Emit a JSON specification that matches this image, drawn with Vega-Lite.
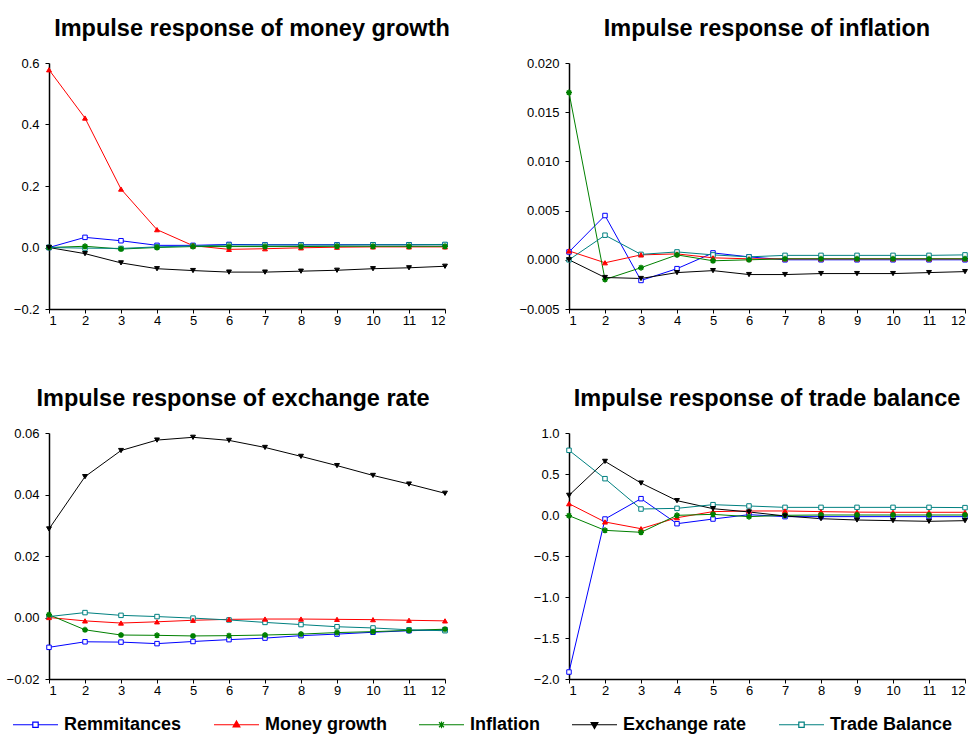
{
  "$schema": "https://vega.github.io/schema/vega-lite/v6.json",
  "padding": {"left": 5, "top": 16, "right": 5, "bottom": 5},
  "background": "white",
  "config": {
    "font": "Liberation Sans",
    "view": {"stroke": null},
    "axis": {"grid": false, "title": null, "domainColor": "black", "domainWidth": 1.5, "tickColor": "black", "tickWidth": 1, "tickSize": 4, "labelColor": "black", "labelFont": "Liberation Sans", "labelFontSize": 13},
    "axisX": {"labelPadding": 1},
    "axisY": {"labelPadding": 6, "minExtent": 44, "maxExtent": 44},
    "title": {"fontSize": 23.5, "font": "Liberation Sans", "fontWeight": "bold", "anchor": "middle", "frame": "group", "offset": 17, "color": "black"},
    "legend": {"orient": "none", "legendX": -37, "legendY": 638, "direction": "horizontal", "title": null, "labelFont": "Liberation Sans", "labelFontSize": 18, "labelFontWeight": "bold", "labelColor": "black", "symbolSize": 2025, "symbolStrokeWidth": 1.2, "labelOffset": 5, "columnPadding": 29}
  },
  "datasets": {
    "money": [
      {"series": "Remmitances", "period": 1, "value": 0}, {"series": "Remmitances", "period": 2, "value": 0.033}, {"series": "Remmitances", "period": 3, "value": 0.022}, {"series": "Remmitances", "period": 4, "value": 0.007}, {"series": "Remmitances", "period": 5, "value": 0.007}, {"series": "Remmitances", "period": 6, "value": 0.010}, {"series": "Remmitances", "period": 7, "value": 0.009}, {"series": "Remmitances", "period": 8, "value": 0.009}, {"series": "Remmitances", "period": 9, "value": 0.009}, {"series": "Remmitances", "period": 10, "value": 0.009}, {"series": "Remmitances", "period": 11, "value": 0.009}, {"series": "Remmitances", "period": 12, "value": 0.009},
      {"series": "Money growth", "period": 1, "value": 0.578}, {"series": "Money growth", "period": 2, "value": 0.421}, {"series": "Money growth", "period": 3, "value": 0.190}, {"series": "Money growth", "period": 4, "value": 0.058}, {"series": "Money growth", "period": 5, "value": 0.006}, {"series": "Money growth", "period": 6, "value": -0.006}, {"series": "Money growth", "period": 7, "value": -0.004}, {"series": "Money growth", "period": 8, "value": -0.001}, {"series": "Money growth", "period": 9, "value": 0.001}, {"series": "Money growth", "period": 10, "value": 0.002}, {"series": "Money growth", "period": 11, "value": 0.002}, {"series": "Money growth", "period": 12, "value": 0.002},
      {"series": "Inflation", "period": 1, "value": 0}, {"series": "Inflation", "period": 2, "value": 0.004}, {"series": "Inflation", "period": 3, "value": -0.005}, {"series": "Inflation", "period": 4, "value": 0.000}, {"series": "Inflation", "period": 5, "value": 0.003}, {"series": "Inflation", "period": 6, "value": 0.003}, {"series": "Inflation", "period": 7, "value": 0.003}, {"series": "Inflation", "period": 8, "value": 0.003}, {"series": "Inflation", "period": 9, "value": 0.004}, {"series": "Inflation", "period": 10, "value": 0.004}, {"series": "Inflation", "period": 11, "value": 0.004}, {"series": "Inflation", "period": 12, "value": 0.004},
      {"series": "Exchange rate", "period": 1, "value": 0}, {"series": "Exchange rate", "period": 2, "value": -0.020}, {"series": "Exchange rate", "period": 3, "value": -0.050}, {"series": "Exchange rate", "period": 4, "value": -0.069}, {"series": "Exchange rate", "period": 5, "value": -0.075}, {"series": "Exchange rate", "period": 6, "value": -0.080}, {"series": "Exchange rate", "period": 7, "value": -0.080}, {"series": "Exchange rate", "period": 8, "value": -0.077}, {"series": "Exchange rate", "period": 9, "value": -0.074}, {"series": "Exchange rate", "period": 10, "value": -0.069}, {"series": "Exchange rate", "period": 11, "value": -0.066}, {"series": "Exchange rate", "period": 12, "value": -0.061},
      {"series": "Trade Balance", "period": 1, "value": 0}, {"series": "Trade Balance", "period": 2, "value": -0.002}, {"series": "Trade Balance", "period": 3, "value": -0.003}, {"series": "Trade Balance", "period": 4, "value": 0.002}, {"series": "Trade Balance", "period": 5, "value": 0.005}, {"series": "Trade Balance", "period": 6, "value": 0.008}, {"series": "Trade Balance", "period": 7, "value": 0.008}, {"series": "Trade Balance", "period": 8, "value": 0.008}, {"series": "Trade Balance", "period": 9, "value": 0.008}, {"series": "Trade Balance", "period": 10, "value": 0.009}, {"series": "Trade Balance", "period": 11, "value": 0.009}, {"series": "Trade Balance", "period": 12, "value": 0.010}
    ],
    "inflation": [
      {"series": "Remmitances", "period": 1, "value": 0.0008}, {"series": "Remmitances", "period": 2, "value": 0.0045}, {"series": "Remmitances", "period": 3, "value": -0.0021}, {"series": "Remmitances", "period": 4, "value": -0.0009}, {"series": "Remmitances", "period": 5, "value": 0.0007}, {"series": "Remmitances", "period": 6, "value": 0.0003}, {"series": "Remmitances", "period": 7, "value": 0.0000}, {"series": "Remmitances", "period": 8, "value": 0.0000}, {"series": "Remmitances", "period": 9, "value": 0.0000}, {"series": "Remmitances", "period": 10, "value": 0.0000}, {"series": "Remmitances", "period": 11, "value": 0.0000}, {"series": "Remmitances", "period": 12, "value": 0.0000},
      {"series": "Money growth", "period": 1, "value": 0.0009}, {"series": "Money growth", "period": 2, "value": -0.0003}, {"series": "Money growth", "period": 3, "value": 0.0005}, {"series": "Money growth", "period": 4, "value": 0.0006}, {"series": "Money growth", "period": 5, "value": 0.0002}, {"series": "Money growth", "period": 6, "value": 0.0001}, {"series": "Money growth", "period": 7, "value": 0.0001}, {"series": "Money growth", "period": 8, "value": 0.0001}, {"series": "Money growth", "period": 9, "value": 0.0001}, {"series": "Money growth", "period": 10, "value": 0.0001}, {"series": "Money growth", "period": 11, "value": 0.0001}, {"series": "Money growth", "period": 12, "value": 0.0001},
      {"series": "Inflation", "period": 1, "value": 0.0170}, {"series": "Inflation", "period": 2, "value": -0.0020}, {"series": "Inflation", "period": 3, "value": -0.0008}, {"series": "Inflation", "period": 4, "value": 0.0005}, {"series": "Inflation", "period": 5, "value": -0.0001}, {"series": "Inflation", "period": 6, "value": 0.0000}, {"series": "Inflation", "period": 7, "value": 0.0001}, {"series": "Inflation", "period": 8, "value": 0.0001}, {"series": "Inflation", "period": 9, "value": 0.0001}, {"series": "Inflation", "period": 10, "value": 0.0001}, {"series": "Inflation", "period": 11, "value": 0.0001}, {"series": "Inflation", "period": 12, "value": 0.0001},
      {"series": "Exchange rate", "period": 1, "value": 0}, {"series": "Exchange rate", "period": 2, "value": -0.0018}, {"series": "Exchange rate", "period": 3, "value": -0.0019}, {"series": "Exchange rate", "period": 4, "value": -0.0013}, {"series": "Exchange rate", "period": 5, "value": -0.0011}, {"series": "Exchange rate", "period": 6, "value": -0.0015}, {"series": "Exchange rate", "period": 7, "value": -0.0015}, {"series": "Exchange rate", "period": 8, "value": -0.0014}, {"series": "Exchange rate", "period": 9, "value": -0.0014}, {"series": "Exchange rate", "period": 10, "value": -0.0014}, {"series": "Exchange rate", "period": 11, "value": -0.0013}, {"series": "Exchange rate", "period": 12, "value": -0.0012},
      {"series": "Trade Balance", "period": 1, "value": 0}, {"series": "Trade Balance", "period": 2, "value": 0.0025}, {"series": "Trade Balance", "period": 3, "value": 0.00055}, {"series": "Trade Balance", "period": 4, "value": 0.0008}, {"series": "Trade Balance", "period": 5, "value": 0.0005}, {"series": "Trade Balance", "period": 6, "value": 0.0003}, {"series": "Trade Balance", "period": 7, "value": 0.00045}, {"series": "Trade Balance", "period": 8, "value": 0.00045}, {"series": "Trade Balance", "period": 9, "value": 0.00045}, {"series": "Trade Balance", "period": 10, "value": 0.00045}, {"series": "Trade Balance", "period": 11, "value": 0.00045}, {"series": "Trade Balance", "period": 12, "value": 0.0005}
    ],
    "exrate": [
      {"series": "Remmitances", "period": 1, "value": -0.0097}, {"series": "Remmitances", "period": 2, "value": -0.0079}, {"series": "Remmitances", "period": 3, "value": -0.0080}, {"series": "Remmitances", "period": 4, "value": -0.0085}, {"series": "Remmitances", "period": 5, "value": -0.0078}, {"series": "Remmitances", "period": 6, "value": -0.0072}, {"series": "Remmitances", "period": 7, "value": -0.0067}, {"series": "Remmitances", "period": 8, "value": -0.0059}, {"series": "Remmitances", "period": 9, "value": -0.0054}, {"series": "Remmitances", "period": 10, "value": -0.0048}, {"series": "Remmitances", "period": 11, "value": -0.0043}, {"series": "Remmitances", "period": 12, "value": -0.0040},
      {"series": "Money growth", "period": 1, "value": 0.0}, {"series": "Money growth", "period": 2, "value": -0.0011}, {"series": "Money growth", "period": 3, "value": -0.0018}, {"series": "Money growth", "period": 4, "value": -0.0014}, {"series": "Money growth", "period": 5, "value": -0.0009}, {"series": "Money growth", "period": 6, "value": -0.0006}, {"series": "Money growth", "period": 7, "value": -0.0005}, {"series": "Money growth", "period": 8, "value": -0.0005}, {"series": "Money growth", "period": 9, "value": -0.0006}, {"series": "Money growth", "period": 10, "value": -0.0007}, {"series": "Money growth", "period": 11, "value": -0.0009}, {"series": "Money growth", "period": 12, "value": -0.0011},
      {"series": "Inflation", "period": 1, "value": 0.0009}, {"series": "Inflation", "period": 2, "value": -0.0040}, {"series": "Inflation", "period": 3, "value": -0.0057}, {"series": "Inflation", "period": 4, "value": -0.0058}, {"series": "Inflation", "period": 5, "value": -0.0060}, {"series": "Inflation", "period": 6, "value": -0.0059}, {"series": "Inflation", "period": 7, "value": -0.0057}, {"series": "Inflation", "period": 8, "value": -0.0054}, {"series": "Inflation", "period": 9, "value": -0.0049}, {"series": "Inflation", "period": 10, "value": -0.0046}, {"series": "Inflation", "period": 11, "value": -0.0042}, {"series": "Inflation", "period": 12, "value": -0.0038},
      {"series": "Exchange rate", "period": 1, "value": 0.0288}, {"series": "Exchange rate", "period": 2, "value": 0.0458}, {"series": "Exchange rate", "period": 3, "value": 0.0543}, {"series": "Exchange rate", "period": 4, "value": 0.0577}, {"series": "Exchange rate", "period": 5, "value": 0.0586}, {"series": "Exchange rate", "period": 6, "value": 0.0576}, {"series": "Exchange rate", "period": 7, "value": 0.0553}, {"series": "Exchange rate", "period": 8, "value": 0.0524}, {"series": "Exchange rate", "period": 9, "value": 0.0494}, {"series": "Exchange rate", "period": 10, "value": 0.0462}, {"series": "Exchange rate", "period": 11, "value": 0.0434}, {"series": "Exchange rate", "period": 12, "value": 0.0404},
      {"series": "Trade Balance", "period": 1, "value": 0.0003}, {"series": "Trade Balance", "period": 2, "value": 0.0016}, {"series": "Trade Balance", "period": 3, "value": 0.0007}, {"series": "Trade Balance", "period": 4, "value": 0.0003}, {"series": "Trade Balance", "period": 5, "value": -0.0002}, {"series": "Trade Balance", "period": 6, "value": -0.0008}, {"series": "Trade Balance", "period": 7, "value": -0.0016}, {"series": "Trade Balance", "period": 8, "value": -0.0023}, {"series": "Trade Balance", "period": 9, "value": -0.0030}, {"series": "Trade Balance", "period": 10, "value": -0.0034}, {"series": "Trade Balance", "period": 11, "value": -0.0040}, {"series": "Trade Balance", "period": 12, "value": -0.0043}
    ],
    "trade": [
      {"series": "Remmitances", "period": 1, "value": -1.915}, {"series": "Remmitances", "period": 2, "value": -0.049}, {"series": "Remmitances", "period": 3, "value": 0.199}, {"series": "Remmitances", "period": 4, "value": -0.106}, {"series": "Remmitances", "period": 5, "value": -0.049}, {"series": "Remmitances", "period": 6, "value": 0.004}, {"series": "Remmitances", "period": 7, "value": -0.020}, {"series": "Remmitances", "period": 8, "value": -0.020}, {"series": "Remmitances", "period": 9, "value": -0.020}, {"series": "Remmitances", "period": 10, "value": -0.020}, {"series": "Remmitances", "period": 11, "value": -0.020}, {"series": "Remmitances", "period": 12, "value": -0.020},
      {"series": "Money growth", "period": 1, "value": 0.138}, {"series": "Money growth", "period": 2, "value": -0.085}, {"series": "Money growth", "period": 3, "value": -0.167}, {"series": "Money growth", "period": 4, "value": -0.033}, {"series": "Money growth", "period": 5, "value": 0.041}, {"series": "Money growth", "period": 6, "value": 0.049}, {"series": "Money growth", "period": 7, "value": 0.049}, {"series": "Money growth", "period": 8, "value": 0.041}, {"series": "Money growth", "period": 9, "value": 0.035}, {"series": "Money growth", "period": 10, "value": 0.033}, {"series": "Money growth", "period": 11, "value": 0.033}, {"series": "Money growth", "period": 12, "value": 0.033},
      {"series": "Inflation", "period": 1, "value": -0.008}, {"series": "Inflation", "period": 2, "value": -0.187}, {"series": "Inflation", "period": 3, "value": -0.211}, {"series": "Inflation", "period": 4, "value": -0.004}, {"series": "Inflation", "period": 5, "value": 0.008}, {"series": "Inflation", "period": 6, "value": -0.020}, {"series": "Inflation", "period": 7, "value": -0.004}, {"series": "Inflation", "period": 8, "value": 0.000}, {"series": "Inflation", "period": 9, "value": 0.000}, {"series": "Inflation", "period": 10, "value": 0.000}, {"series": "Inflation", "period": 11, "value": 0.000}, {"series": "Inflation", "period": 12, "value": 0.000},
      {"series": "Exchange rate", "period": 1, "value": 0.240}, {"series": "Exchange rate", "period": 2, "value": 0.654}, {"series": "Exchange rate", "period": 3, "value": 0.390}, {"series": "Exchange rate", "period": 4, "value": 0.175}, {"series": "Exchange rate", "period": 5, "value": 0.077}, {"series": "Exchange rate", "period": 6, "value": 0.037}, {"series": "Exchange rate", "period": 7, "value": -0.012}, {"series": "Exchange rate", "period": 8, "value": -0.045}, {"series": "Exchange rate", "period": 9, "value": -0.061}, {"series": "Exchange rate", "period": 10, "value": -0.069}, {"series": "Exchange rate", "period": 11, "value": -0.077}, {"series": "Exchange rate", "period": 12, "value": -0.069},
      {"series": "Trade Balance", "period": 1, "value": 0.789}, {"series": "Trade Balance", "period": 2, "value": 0.443}, {"series": "Trade Balance", "period": 3, "value": 0.073}, {"series": "Trade Balance", "period": 4, "value": 0.081}, {"series": "Trade Balance", "period": 5, "value": 0.126}, {"series": "Trade Balance", "period": 6, "value": 0.110}, {"series": "Trade Balance", "period": 7, "value": 0.093}, {"series": "Trade Balance", "period": 8, "value": 0.093}, {"series": "Trade Balance", "period": 9, "value": 0.093}, {"series": "Trade Balance", "period": 10, "value": 0.093}, {"series": "Trade Balance", "period": 11, "value": 0.093}, {"series": "Trade Balance", "period": 12, "value": 0.090}
    ]
  },
  "columns": 2,
  "spacing": {"row": 59, "column": 67},
  "concat": [
    {
      "title": {"text": "Impulse response of money growth", "dx": 5},
      "width": 396, "height": 246,
      "data": {"name": "money"},
      "encoding": {
        "x": {"field": "period", "type": "quantitative", "scale": {"domain": [1, 12], "nice": false, "zero": false}, "axis": {"values": [1,2,3,4,5,6,7,8,9,10,11,12], "format": "d"}},
        "y": {"field": "value", "type": "quantitative", "scale": {"domain": [-0.2, 0.6], "nice": false, "zero": false}, "axis": {"values": [-0.2, 0, 0.2, 0.4, 0.6], "format": ".1f"}}
      },
      "layer": [
        {"data": {"values": [{}]}, "mark": {"type": "rule", "color": "#808080", "strokeWidth": 1.5}, "encoding": {"x": null, "y": {"datum": 0}}},
        {"mark": {"type": "line", "strokeWidth": 1}, "encoding": {"color": {"field": "series", "type": "nominal", "scale": {"domain": ["Remmitances", "Money growth", "Inflation", "Exchange rate", "Trade Balance"], "range": ["#0000ff", "#ff0000", "#008000", "#000000", "#008080"]}, "legend": {"encoding": {"symbols": {"shape": {"value": {"expr": "datum.value === 'Money growth' ? 'M-1,0H1M0,-0.17L0.15,0.1L-0.15,0.1Z' : datum.value === 'Inflation' ? 'M-1,0H1M-0.11,-0.11L0.11,0.11M-0.11,0.11L0.11,-0.11M0,-0.15V0.15' : datum.value === 'Exchange rate' ? 'M-1,0H1M0,0.17L0.15,-0.1L-0.15,-0.1Z' : 'M-1,0H-0.12M0.12,0H1M-0.12,-0.12H0.12V0.12H-0.12Z'"}}, "fill": {"value": {"expr": "datum.value === 'Remmitances' || datum.value === 'Trade Balance' ? 'white' : scale('color', datum.value)"}}}}}}}},
        {"transform": [{"filter": "datum.series === 'Remmitances'"}], "mark": {"type": "point", "shape": "square", "size": 20, "filled": true, "fill": "white", "stroke": "#0000ff", "strokeWidth": 1, "opacity": 1, "fillOpacity": 1}},
        {"transform": [{"filter": "datum.series === 'Trade Balance'"}], "mark": {"type": "point", "shape": "square", "size": 20, "filled": true, "fill": "white", "stroke": "#008080", "strokeWidth": 1, "opacity": 1, "fillOpacity": 1}},
        {"transform": [{"filter": "datum.series === 'Money growth'"}], "mark": {"type": "point", "shape": "triangle-up", "size": 24, "filled": true, "fill": "#ff0000", "stroke": "#ff0000", "strokeWidth": 1, "opacity": 1}},
        {"transform": [{"filter": "datum.series === 'Inflation'"}], "mark": {"type": "point", "shape": "M-1,0H1M0,-1V1M-0.7,-0.7L0.7,0.7M-0.7,0.7L0.7,-0.7", "size": 36, "filled": false, "stroke": "#008000", "strokeWidth": 1.5, "opacity": 1}},
        {"transform": [{"filter": "datum.series === 'Exchange rate'"}], "mark": {"type": "point", "shape": "triangle-down", "size": 24, "filled": true, "fill": "#000000", "stroke": "#000000", "strokeWidth": 1, "opacity": 1}}
      ]
    },
    {
      "title": {"text": "Impulse response of inflation"},
      "width": 396, "height": 246,
      "data": {"name": "inflation"},
      "encoding": {
        "x": {"field": "period", "type": "quantitative", "scale": {"domain": [1, 12], "nice": false, "zero": false}, "axis": {"values": [1,2,3,4,5,6,7,8,9,10,11,12], "format": "d"}},
        "y": {"field": "value", "type": "quantitative", "scale": {"domain": [-0.005, 0.02], "nice": false, "zero": false}, "axis": {"values": [-0.005, 0, 0.005, 0.01, 0.015, 0.02], "format": ".3f"}}
      },
      "layer": [
        {"data": {"values": [{}]}, "mark": {"type": "rule", "color": "#808080", "strokeWidth": 1.5}, "encoding": {"x": null, "y": {"datum": 0}}},
        {"mark": {"type": "line", "strokeWidth": 1}, "encoding": {"color": {"field": "series", "type": "nominal", "legend": {"encoding": {"symbols": {"shape": {"value": {"expr": "datum.value === 'Money growth' ? 'M-1,0H1M0,-0.17L0.15,0.1L-0.15,0.1Z' : datum.value === 'Inflation' ? 'M-1,0H1M-0.11,-0.11L0.11,0.11M-0.11,0.11L0.11,-0.11M0,-0.15V0.15' : datum.value === 'Exchange rate' ? 'M-1,0H1M0,0.17L0.15,-0.1L-0.15,-0.1Z' : 'M-1,0H-0.12M0.12,0H1M-0.12,-0.12H0.12V0.12H-0.12Z'"}}, "fill": {"value": {"expr": "datum.value === 'Remmitances' || datum.value === 'Trade Balance' ? 'white' : scale('color', datum.value)"}}}}}}}},
        {"transform": [{"filter": "datum.series === 'Remmitances'"}], "mark": {"type": "point", "shape": "square", "size": 20, "filled": true, "fill": "white", "stroke": "#0000ff", "strokeWidth": 1, "opacity": 1, "fillOpacity": 1}},
        {"transform": [{"filter": "datum.series === 'Trade Balance'"}], "mark": {"type": "point", "shape": "square", "size": 20, "filled": true, "fill": "white", "stroke": "#008080", "strokeWidth": 1, "opacity": 1, "fillOpacity": 1}},
        {"transform": [{"filter": "datum.series === 'Money growth'"}], "mark": {"type": "point", "shape": "triangle-up", "size": 24, "filled": true, "fill": "#ff0000", "stroke": "#ff0000", "strokeWidth": 1, "opacity": 1}},
        {"transform": [{"filter": "datum.series === 'Inflation'"}], "mark": {"type": "point", "shape": "M-1,0H1M0,-1V1M-0.7,-0.7L0.7,0.7M-0.7,0.7L0.7,-0.7", "size": 36, "filled": false, "stroke": "#008000", "strokeWidth": 1.5, "opacity": 1}},
        {"transform": [{"filter": "datum.series === 'Exchange rate'"}], "mark": {"type": "point", "shape": "triangle-down", "size": 24, "filled": true, "fill": "#000000", "stroke": "#000000", "strokeWidth": 1, "opacity": 1}}
      ]
    },
    {
      "title": {"text": "Impulse response of exchange rate", "dx": -14},
      "width": 396, "height": 246,
      "data": {"name": "exrate"},
      "encoding": {
        "x": {"field": "period", "type": "quantitative", "scale": {"domain": [1, 12], "nice": false, "zero": false}, "axis": {"values": [1,2,3,4,5,6,7,8,9,10,11,12], "format": "d"}},
        "y": {"field": "value", "type": "quantitative", "scale": {"domain": [-0.02, 0.06], "nice": false, "zero": false}, "axis": {"values": [-0.02, 0, 0.02, 0.04, 0.06], "format": ".2f"}}
      },
      "layer": [
        {"data": {"values": [{}]}, "mark": {"type": "rule", "color": "#808080", "strokeWidth": 1.5}, "encoding": {"x": null, "y": {"datum": 0}}},
        {"mark": {"type": "line", "strokeWidth": 1}, "encoding": {"color": {"field": "series", "type": "nominal", "legend": {"encoding": {"symbols": {"shape": {"value": {"expr": "datum.value === 'Money growth' ? 'M-1,0H1M0,-0.17L0.15,0.1L-0.15,0.1Z' : datum.value === 'Inflation' ? 'M-1,0H1M-0.11,-0.11L0.11,0.11M-0.11,0.11L0.11,-0.11M0,-0.15V0.15' : datum.value === 'Exchange rate' ? 'M-1,0H1M0,0.17L0.15,-0.1L-0.15,-0.1Z' : 'M-1,0H-0.12M0.12,0H1M-0.12,-0.12H0.12V0.12H-0.12Z'"}}, "fill": {"value": {"expr": "datum.value === 'Remmitances' || datum.value === 'Trade Balance' ? 'white' : scale('color', datum.value)"}}}}}}}},
        {"transform": [{"filter": "datum.series === 'Remmitances'"}], "mark": {"type": "point", "shape": "square", "size": 20, "filled": true, "fill": "white", "stroke": "#0000ff", "strokeWidth": 1, "opacity": 1, "fillOpacity": 1}},
        {"transform": [{"filter": "datum.series === 'Trade Balance'"}], "mark": {"type": "point", "shape": "square", "size": 20, "filled": true, "fill": "white", "stroke": "#008080", "strokeWidth": 1, "opacity": 1, "fillOpacity": 1}},
        {"transform": [{"filter": "datum.series === 'Money growth'"}], "mark": {"type": "point", "shape": "triangle-up", "size": 24, "filled": true, "fill": "#ff0000", "stroke": "#ff0000", "strokeWidth": 1, "opacity": 1}},
        {"transform": [{"filter": "datum.series === 'Inflation'"}], "mark": {"type": "point", "shape": "M-1,0H1M0,-1V1M-0.7,-0.7L0.7,0.7M-0.7,0.7L0.7,-0.7", "size": 36, "filled": false, "stroke": "#008000", "strokeWidth": 1.5, "opacity": 1}},
        {"transform": [{"filter": "datum.series === 'Exchange rate'"}], "mark": {"type": "point", "shape": "triangle-down", "size": 24, "filled": true, "fill": "#000000", "stroke": "#000000", "strokeWidth": 1, "opacity": 1}}
      ]
    },
    {
      "title": {"text": "Impulse response of trade balance"},
      "width": 396, "height": 246,
      "data": {"name": "trade"},
      "encoding": {
        "x": {"field": "period", "type": "quantitative", "scale": {"domain": [1, 12], "nice": false, "zero": false}, "axis": {"values": [1,2,3,4,5,6,7,8,9,10,11,12], "format": "d"}},
        "y": {"field": "value", "type": "quantitative", "scale": {"domain": [-2, 1], "nice": false, "zero": false}, "axis": {"values": [-2, -1.5, -1, -0.5, 0, 0.5, 1], "format": ".1f"}}
      },
      "layer": [
        {"data": {"values": [{}]}, "mark": {"type": "rule", "color": "#808080", "strokeWidth": 1.5}, "encoding": {"x": null, "y": {"datum": 0}}},
        {"mark": {"type": "line", "strokeWidth": 1}, "encoding": {"color": {"field": "series", "type": "nominal", "legend": {"encoding": {"symbols": {"shape": {"value": {"expr": "datum.value === 'Money growth' ? 'M-1,0H1M0,-0.17L0.15,0.1L-0.15,0.1Z' : datum.value === 'Inflation' ? 'M-1,0H1M-0.11,-0.11L0.11,0.11M-0.11,0.11L0.11,-0.11M0,-0.15V0.15' : datum.value === 'Exchange rate' ? 'M-1,0H1M0,0.17L0.15,-0.1L-0.15,-0.1Z' : 'M-1,0H-0.12M0.12,0H1M-0.12,-0.12H0.12V0.12H-0.12Z'"}}, "fill": {"value": {"expr": "datum.value === 'Remmitances' || datum.value === 'Trade Balance' ? 'white' : scale('color', datum.value)"}}}}}}}},
        {"transform": [{"filter": "datum.series === 'Remmitances'"}], "mark": {"type": "point", "shape": "square", "size": 20, "filled": true, "fill": "white", "stroke": "#0000ff", "strokeWidth": 1, "opacity": 1, "fillOpacity": 1}},
        {"transform": [{"filter": "datum.series === 'Trade Balance'"}], "mark": {"type": "point", "shape": "square", "size": 20, "filled": true, "fill": "white", "stroke": "#008080", "strokeWidth": 1, "opacity": 1, "fillOpacity": 1}},
        {"transform": [{"filter": "datum.series === 'Money growth'"}], "mark": {"type": "point", "shape": "triangle-up", "size": 24, "filled": true, "fill": "#ff0000", "stroke": "#ff0000", "strokeWidth": 1, "opacity": 1}},
        {"transform": [{"filter": "datum.series === 'Inflation'"}], "mark": {"type": "point", "shape": "M-1,0H1M0,-1V1M-0.7,-0.7L0.7,0.7M-0.7,0.7L0.7,-0.7", "size": 36, "filled": false, "stroke": "#008000", "strokeWidth": 1.5, "opacity": 1}},
        {"transform": [{"filter": "datum.series === 'Exchange rate'"}], "mark": {"type": "point", "shape": "triangle-down", "size": 24, "filled": true, "fill": "#000000", "stroke": "#000000", "strokeWidth": 1, "opacity": 1}}
      ]
    }
  ]
}
